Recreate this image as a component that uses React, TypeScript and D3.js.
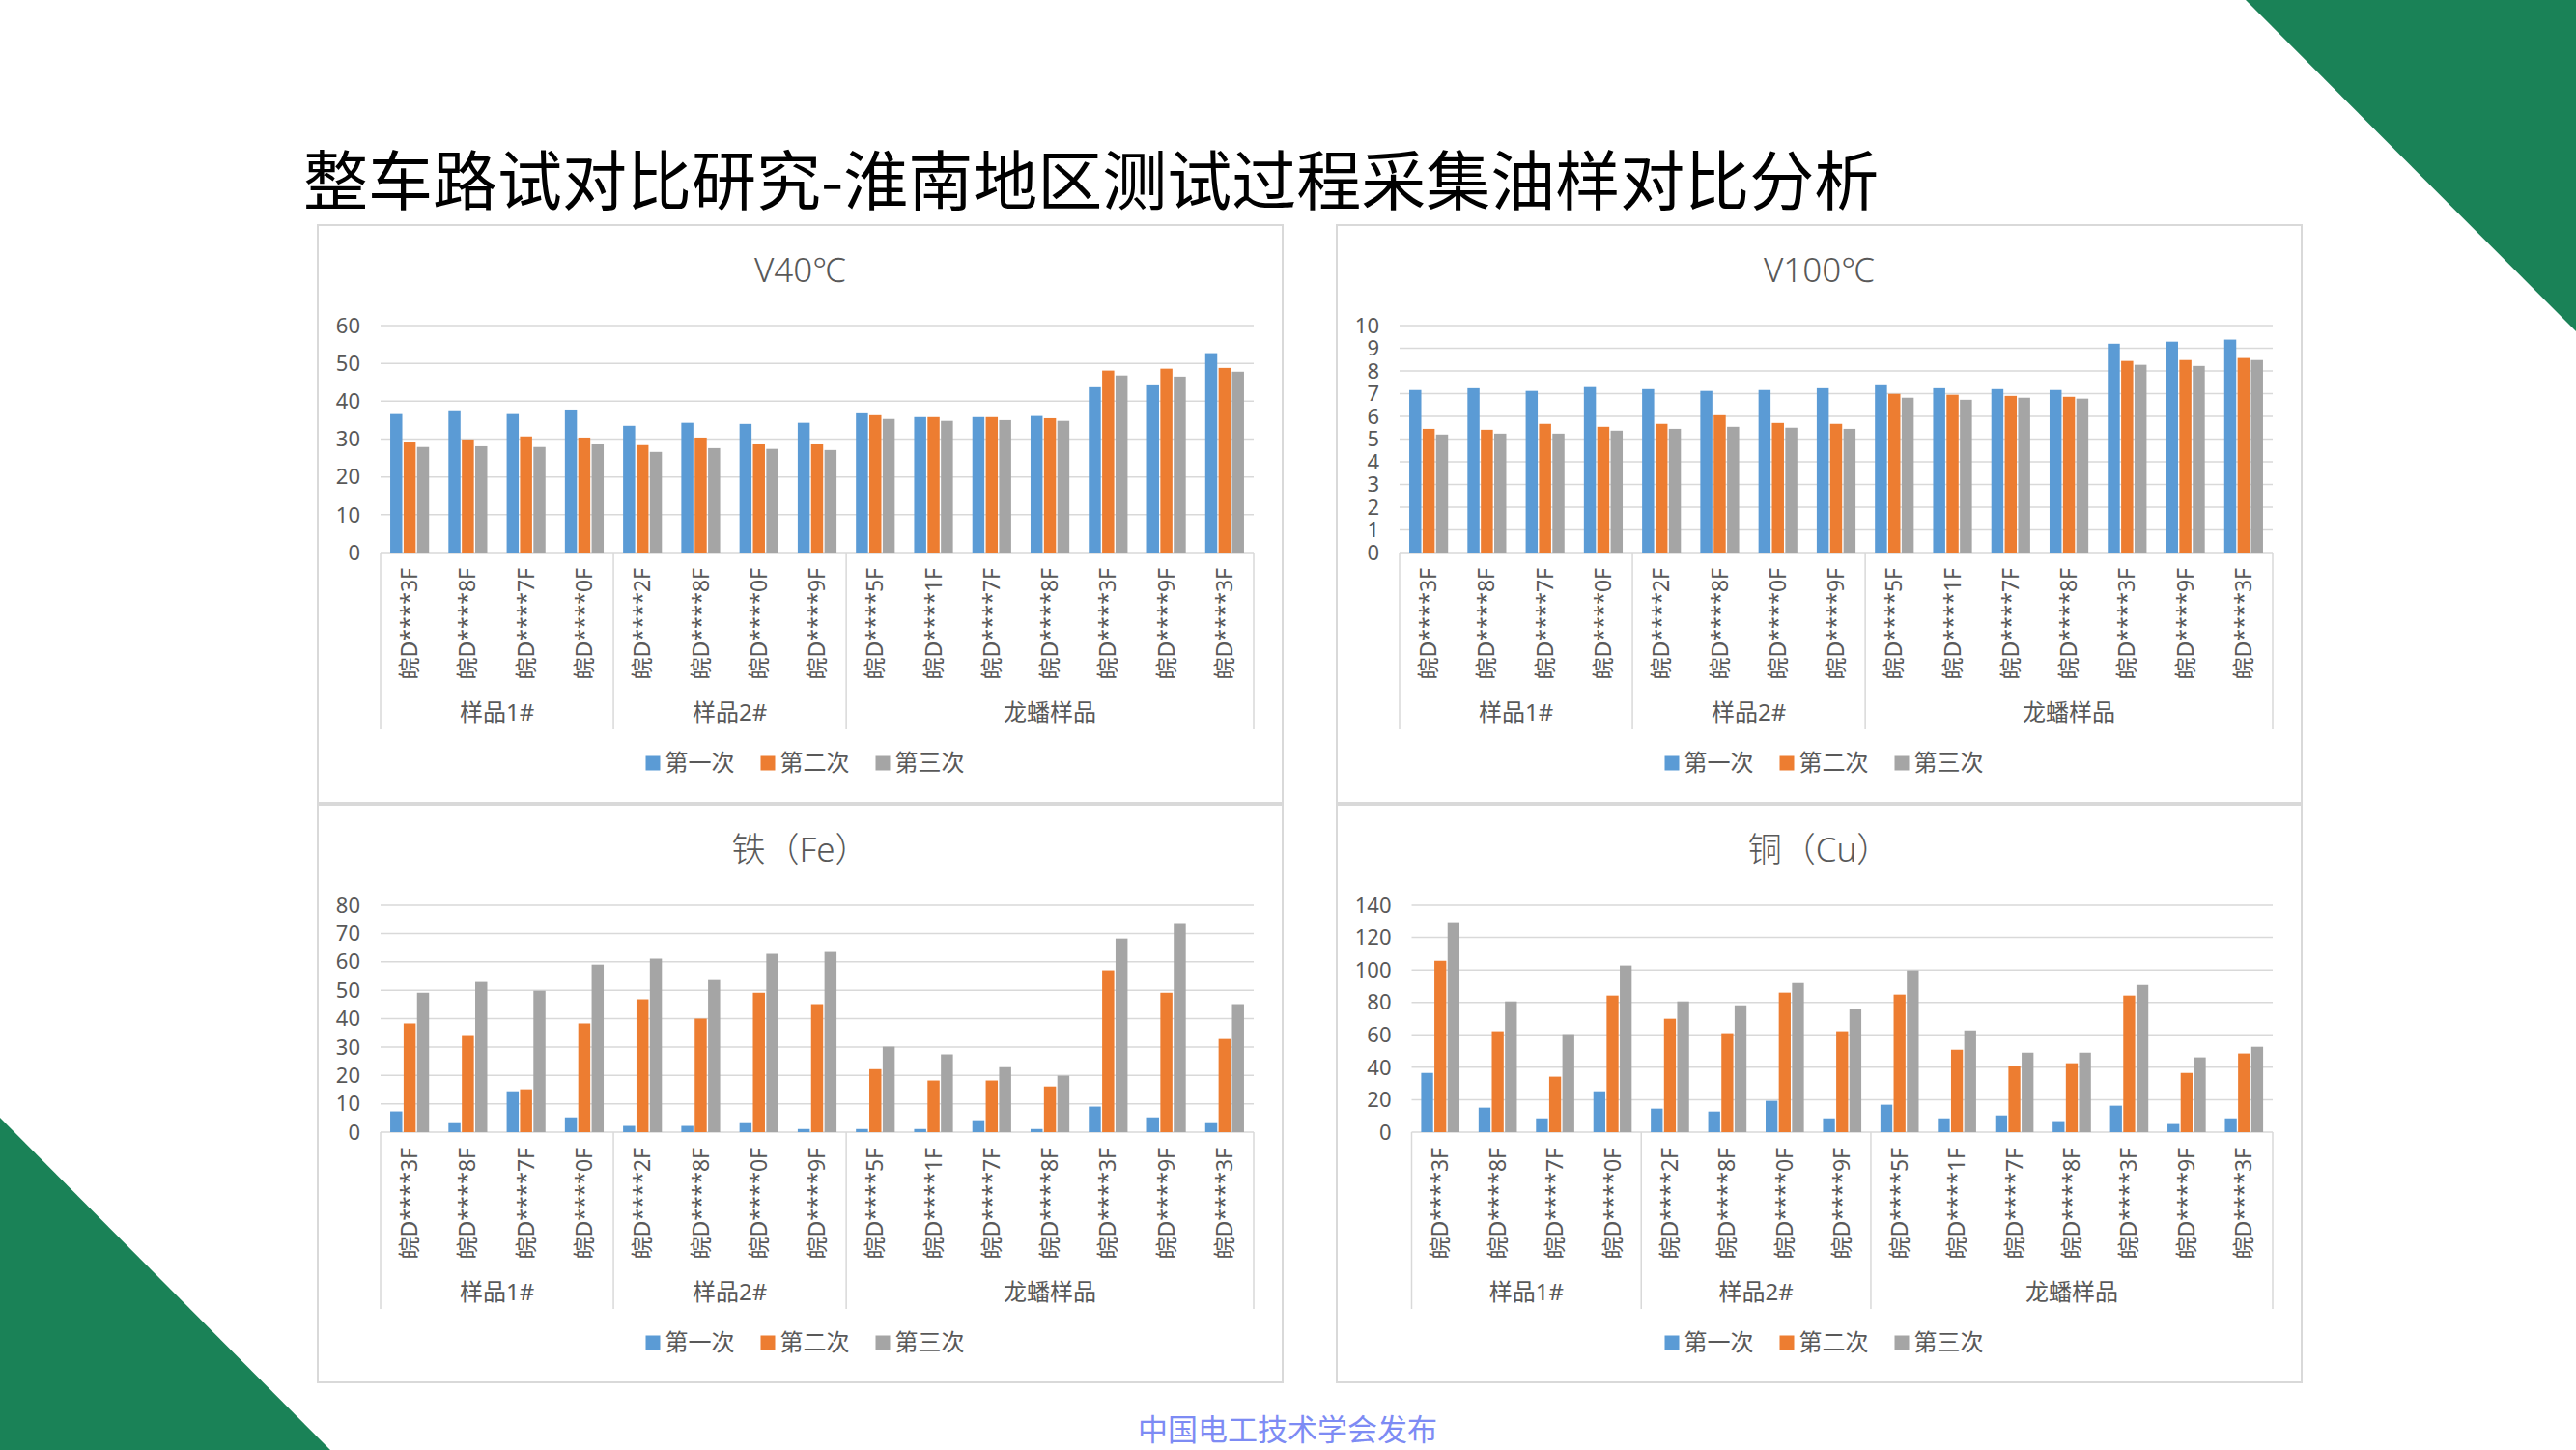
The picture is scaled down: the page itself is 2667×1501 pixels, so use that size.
import React from 'react';
import * as d3 from 'd3';

const categories = ['皖D****3F', '皖D****8F', '皖D****7F', '皖D****0F', '皖D****2F', '皖D****8F', '皖D****0F', '皖D****9F', '皖D****5F', '皖D****1F', '皖D****7F', '皖D****8F', '皖D****3F', '皖D****9F', '皖D****3F'];
const groupNames = ['样品1#', '样品2#', '龙蟠样品'];
const groupSizes = [4, 4, 7];
const seriesNames = ['第一次', '第二次', '第三次'];
const seriesColors = ['#5B9BD5', '#ED7D31', '#A5A5A5'];

const v40First = [36.6, 37.6, 36.6, 37.8, 33.5, 34.3, 34.0, 34.3, 36.8, 35.8, 35.8, 36.1, 43.7, 44.2, 52.7];
const v40Second = [29.1, 29.9, 30.7, 30.4, 28.4, 30.4, 28.6, 28.6, 36.3, 35.8, 35.8, 35.5, 48.1, 48.6, 48.8];
const v40Third = [27.9, 28.1, 27.9, 28.6, 26.6, 27.6, 27.4, 27.1, 35.3, 34.8, 35.0, 34.8, 46.8, 46.5, 47.8];
const v40Ticks = [0, 10, 20, 30, 40, 50, 60];

const v100First = [7.16, 7.24, 7.12, 7.29, 7.2, 7.12, 7.16, 7.24, 7.37, 7.24, 7.2, 7.16, 9.2, 9.29, 9.38];
const v100Second = [5.45, 5.41, 5.67, 5.54, 5.67, 6.05, 5.71, 5.67, 6.99, 6.95, 6.9, 6.86, 8.44, 8.48, 8.57];
const v100Third = [5.2, 5.24, 5.24, 5.37, 5.45, 5.54, 5.5, 5.45, 6.82, 6.73, 6.82, 6.78, 8.27, 8.22, 8.48];
const v100Ticks = [0, 1, 2, 3, 4, 5, 6, 7, 8, 9, 10];

const feFirst = [7.3, 3.5, 14.4, 5.2, 2.2, 2.2, 3.5, 1.1, 1.1, 1.1, 4.2, 1.1, 9.0, 5.2, 3.5];
const feSecond = [38.3, 34.2, 15.1, 38.3, 46.8, 40.0, 49.1, 45.1, 22.2, 18.2, 18.2, 16.1, 57.0, 49.1, 32.8];
const feThird = [49.1, 52.9, 49.8, 59.0, 61.1, 53.9, 62.8, 63.8, 30.1, 27.4, 22.9, 19.9, 68.2, 73.7, 45.1];
const feTicks = [0, 10, 20, 30, 40, 50, 60, 70, 80];

const cuFirst = [36.5, 15.1, 8.5, 25.2, 14.5, 12.7, 19.3, 8.5, 16.9, 8.5, 10.3, 6.8, 16.3, 5.0, 8.5];
const cuSecond = [105.6, 62.2, 34.2, 84.2, 69.9, 61.0, 86.0, 62.2, 84.8, 50.8, 40.7, 42.5, 84.2, 36.5, 48.5];
const cuThird = [129.5, 80.6, 60.4, 102.7, 80.6, 78.2, 91.9, 75.9, 99.7, 62.7, 49.0, 49.0, 90.7, 46.1, 52.6];
const cuTicks = [0, 20, 40, 60, 80, 100, 120, 140];

const mainTitle = '整车路试对比研究-淮南地区测试过程采集油样对比分析';
const footer = '中国电工技术学会发布';

const FONT = '"Noto Sans", "Noto Sans CJK SC", sans-serif';
const TXT = '#595959';
const GRID = '#D9D9D9';

const PW = 1001;
const PH = 600;

type ChartProps = {
  x: number;
  y: number;
  title: string;
  series: number[][];
  ticks: number[];
  plotLeft: number;
};

function Chart({ x, y, title, series, ticks, plotLeft }: ChartProps) {
  const plotRight = 970;
  const plotTop = 105;
  const plotBottom = 340;
  const yScale = d3.scaleLinear().domain([0, ticks[ticks.length - 1]]).range([plotBottom, plotTop]);
  const xScale = d3.scaleBand<number>().domain(categories.map((_, i) => i)).range([plotLeft, plotRight]).padding(0);
  const bw = xScale.bandwidth();
  const clusterW = (bw / 4.5) * 3;
  const inner = d3.scaleBand<number>().domain([0, 1, 2]).range([0, clusterW]).paddingInner(0.1);

  const bounds: number[] = [0];
  groupSizes.forEach((s) => bounds.push(bounds[bounds.length - 1] + s));
  const boundX = (k: number) => (k >= categories.length ? plotRight : (xScale(k) as number));

  const legendStart = PW / 2 - 160;
  return (
    <g transform={`translate(${x},${y})`}>
      <rect x={1} y={1} width={PW - 2} height={PH - 2} fill="#fff" stroke={GRID} strokeWidth={2} />
      <text x={PW / 2} y={60} textAnchor="middle" fontSize={35} fontWeight={300} fill={TXT} fontFamily={FONT}>
        {title}
      </text>
      {ticks.map((t) => (
        <g key={t}>
          <line x1={plotLeft} x2={plotRight} y1={yScale(t)} y2={yScale(t)} stroke={GRID} strokeWidth={1.5} />
          <text x={plotLeft - 21} y={yScale(t)} dy="0.35em" textAnchor="end" fontSize={22} fill={TXT} fontFamily={FONT}>
            {t}
          </text>
        </g>
      ))}
      {categories.map((_, i) => {
        const x0 = (xScale(i) as number) + (bw - clusterW) / 2;
        return series.map((s, j) => (
          <rect
            key={`${i}-${j}`}
            x={x0 + (inner(j) as number)}
            y={yScale(s[i])}
            width={inner.bandwidth()}
            height={plotBottom - yScale(s[i])}
            fill={seriesColors[j]}
          />
        ));
      })}
      {bounds.map((b, k) => (
        <line key={k} x1={boundX(b)} x2={boundX(b)} y1={plotBottom} y2={523} stroke={GRID} strokeWidth={1.5} />
      ))}
      {categories.map((c, i) => {
        const cx = (xScale(i) as number) + bw / 2;
        return (
          <text
            key={i}
            transform={`translate(${cx},356) rotate(-90)`}
            dy="0.35em"
            textAnchor="end"
            fontSize={23}
            fill={TXT}
            fontFamily={FONT}
          >
            {c}
          </text>
        );
      })}
      {groupNames.map((g, k) => (
        <text
          key={g}
          x={(boundX(bounds[k]) + boundX(bounds[k + 1])) / 2}
          y={506}
          dy="0.35em"
          textAnchor="middle"
          fontSize={24}
          fill={TXT}
          fontFamily={FONT}
        >
          {g}
        </text>
      ))}
      {seriesNames.map((n, j) => (
        <g key={n} transform={`translate(${legendStart + j * 119},558)`}>
          <rect x={0} y={-7.5} width={15} height={15} fill={seriesColors[j]} />
          <text x={20} y={0} dy="0.35em" fontSize={24} fill={TXT} fontFamily={FONT}>
            {n}
          </text>
        </g>
      ))}
    </g>
  );
}

export default function App() {
  return (
    <svg
      width={2667}
      height={1501}
      style={{ position: 'absolute', left: 0, top: 0, display: 'block', background: '#fff' }}
    >
      <rect x={0} y={0} width={2667} height={1501} fill="#fff" />
      <polygon points="2325,0 2667,0 2667,343" fill="#1A8257" />
      <polygon points="0,1157 0,1501 342,1501" fill="#1A8257" />
      <text x={314} y={212} fontSize={67} fill="#000" fontFamily='"Noto Sans CJK SC", sans-serif'>
        {mainTitle}
      </text>
      <Chart x={328} y={232} title="V40℃" series={[v40First, v40Second, v40Third]} ticks={v40Ticks} plotLeft={66} />
      <Chart x={1383} y={232} title="V100℃" series={[v100First, v100Second, v100Third]} ticks={v100Ticks} plotLeft={66} />
      <Chart x={328} y={832} title="铁（Fe）" series={[feFirst, feSecond, feThird]} ticks={feTicks} plotLeft={66} />
      <Chart x={1383} y={832} title="铜（Cu）" series={[cuFirst, cuSecond, cuThird]} ticks={cuTicks} plotLeft={78.5} />
      <text x={1178} y={1491} fontSize={31} fill="#7D8BF4" fontFamily='"Noto Sans CJK SC", sans-serif'>
        {footer}
      </text>
    </svg>
  );
}
